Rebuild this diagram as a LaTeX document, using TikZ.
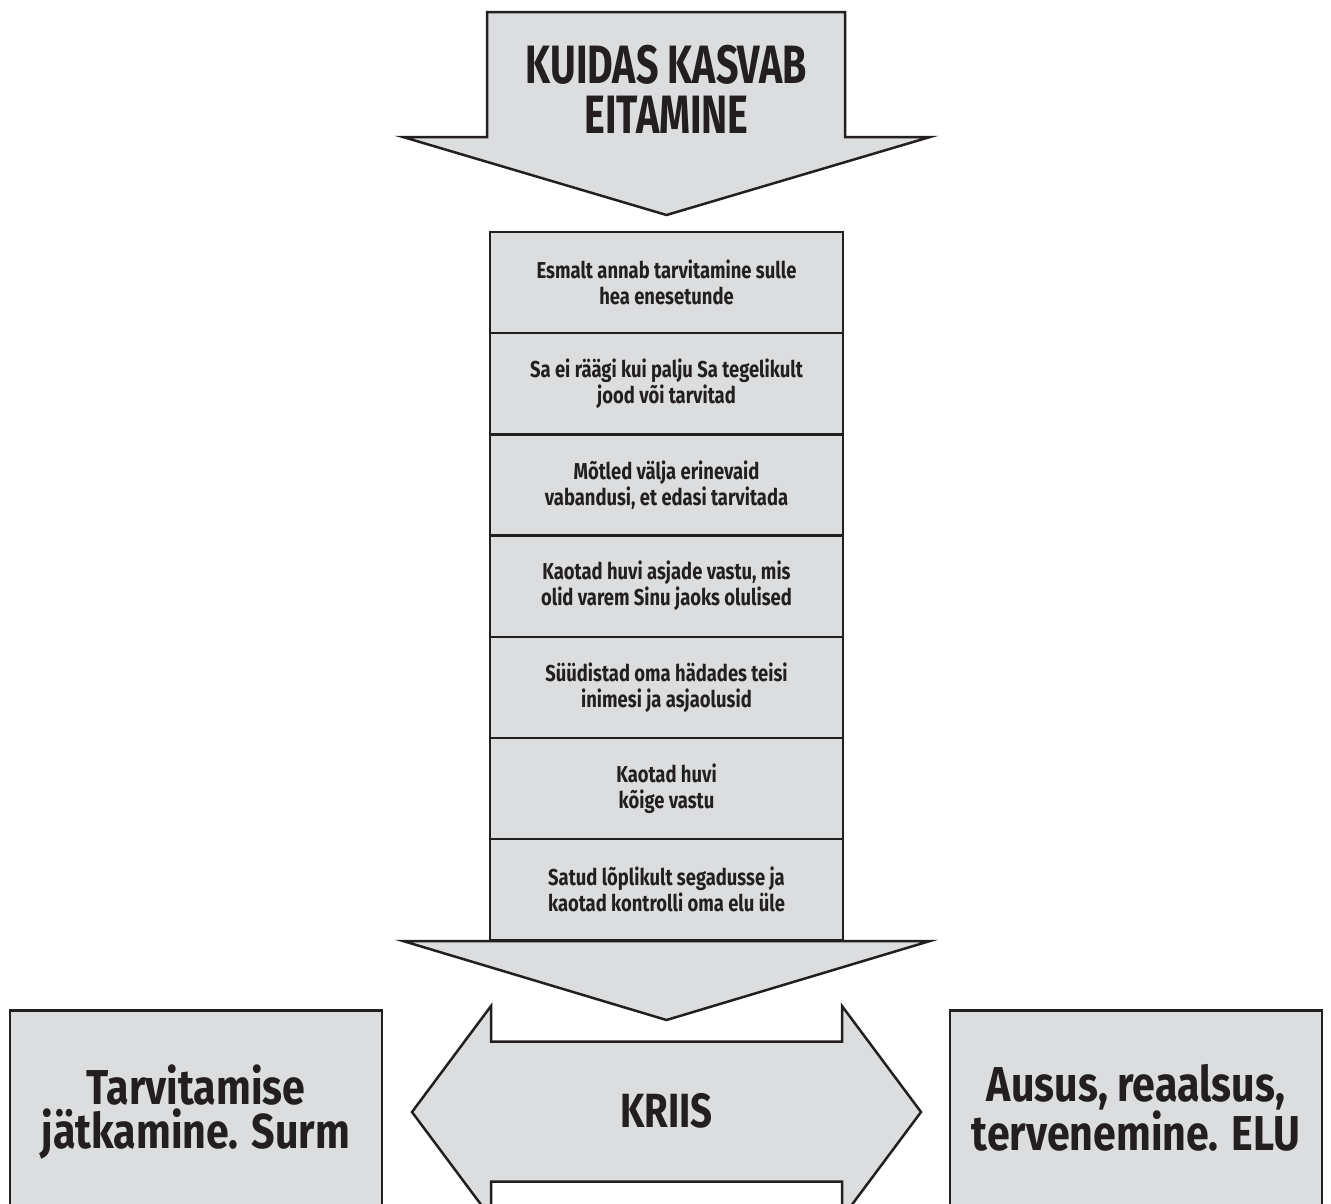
\documentclass[tikz,border=0pt]{standalone}
\usepackage{fontspec}
\setmainfont{Fira Sans}[FakeStretch=0.8]
\newfontfamily\titlefont{Fira Sans}[FakeStretch=0.73]
\newfontfamily\sidefont{Fira Sans}[FakeStretch=0.84]
\usepackage{tikz}
\usetikzlibrary{positioning}
\definecolor{boxgray}{HTML}{DCDDDF}
\definecolor{inkdark}{HTML}{231F20}
\tikzstyle{block}=[draw=inkdark, fill=boxgray, line width=2.5pt, line join=miter]
\tikzstyle{stepbox}=[block, rectangle, minimum width=353pt, minimum height=101.2pt, inner sep=0pt, outer sep=0pt, align=center, text=inkdark, font=\fontsize{23}{26}\selectfont\bfseries]
\tikzstyle{bigtext}=[inner sep=0pt, align=center, text=inkdark]

\begin{document}
\begin{tikzpicture}[x=1pt, y=-1pt]
            \useasboundingbox (0,0) rectangle (1331,1203);
            \clip (0,0) rectangle (1331,1203);

            % top arrow
            \draw[block] (487,12) -- (845,12) -- (845,137) -- (930,137) -- (666.5,215) -- (403,137) -- (487,137) -- cycle;
            \node[bigtext, font=\titlefont\fontsize{54}{50}\selectfont\bfseries] (title) at (666.5,89) {KUIDAS KASVAB\\EITAMINE};

            % steps
            \node[stepbox] (s1) at (666.5,282.6) {Esmalt annab tarvitamine sulle\\hea enesetunde};
            \node[stepbox, below=0pt of s1] (s2) {Sa ei räägi kui palju Sa tegelikult\\jood või tarvitad};
            \node[stepbox, below=0pt of s2] (s3) {Mõtled välja erinevaid\\vabandusi, et edasi tarvitada};
            \node[stepbox, below=0pt of s3] (s4) {Kaotad huvi asjade vastu, mis\\olid varem Sinu jaoks olulised};
            \node[stepbox, below=0pt of s4] (s5) {Süüdistad oma hädades teisi\\inimesi ja asjaolusid};
            \node[stepbox, below=0pt of s5] (s6) {Kaotad huvi\\kõige vastu};
            \node[stepbox, below=0pt of s6] (s7) {Satud lõplikult segadusse ja\\kaotad kontrolli oma elu üle};

            % head under the steps
            \draw[block] (403,941) -- (930,941) -- (666.5,1020) -- cycle;

            % crisis
            \draw[block] (412,1112) -- (491,1006) -- (491,1041.5) -- (842,1041.5) -- (842,1006) -- (921,1112)
                -- (842,1218) -- (842,1181.5) -- (491,1181.5) -- (491,1218) -- cycle;
            \node[bigtext, font=\fontsize{48}{48}\selectfont\bfseries] (kriis) at (666.5,1111) {KRIIS};

            % two ways out
            \draw[block] (10,1010.5) rectangle (382,1240);
            \draw[block] (950,1010.5) rectangle (1322,1240);
            \node[bigtext, font=\sidefont\fontsize{49}{44}\selectfont\bfseries] (surm) at (196,1112) {Tarvitamise\\jätkamine. Surm};
            \node[bigtext, font=\sidefont\fontsize{49}{42}\selectfont\bfseries] (elu) at (1136,1108) {Ausus, reaalsus,\\tervenemine. ELU};
        \end{tikzpicture}
\end{document}
